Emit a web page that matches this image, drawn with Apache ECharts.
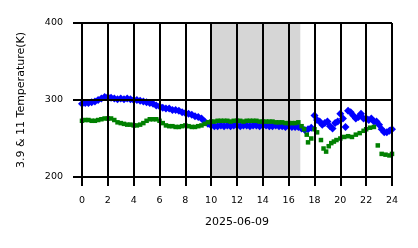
<!DOCTYPE html>
<html>
<head>
<meta charset="utf-8">
<script src="https://cdn.jsdelivr.net/npm/echarts@6/dist/echarts.min.js"></script>
<style>html,body{margin:0;padding:0;background:#fff}#c{width:418px;height:248px}</style>
</head>
<body>
<div id="c"></div>
<script>
// hours (dense part, every 15 min) then sparse part
const hoursDense = [0,0.25,0.5,0.75,1,1.25,1.5,1.75,2,2.25,2.5,2.75,3,3.25,3.5,3.75,4,4.25,4.5,4.75,5,5.25,5.5,5.75,6,6.25,6.5,6.75,7,7.25,7.5,7.75,8,8.25,8.5,8.75,9,9.25,9.5,9.75,10,10.25,10.5,10.75,11,11.25,11.5,11.75,12,12.25,12.5,12.75,13,13.25,13.5,13.75,14,14.25,14.5,14.75,15,15.25,15.5,15.75,16,16.25,16.5,16.75];
const blueDense = [295,296,296,297,298,300,302,304,304,303,302,301,302,301,302,301,300,300,299,298,297,296,295,293,292,290,289,289,287,287,286,284,283,282,281,279,278,276,272,269,267,266,266,267,266,267,266,267,267,266,267,267,266,267,267,266,267,267,266,266,267,266,266,265,266,265,265,265];
const greenDense = [273,274,274,273,273,274,275,276,276,276,274,271,270,269,268,268,267,267,268,270,273,275,275,275,273,270,267,266,266,265,265,266,267,266,265,265,266,267,269,271,272,272,273,273,273,273,272,273,273,273,272,273,273,273,273,272,272,272,272,272,271,271,271,270,270,270,270,271];
const blueSparseHours = [17,17.25,17.5,17.75,18,18.2,18.4,18.6,18.8,19,19.2,19.4,19.6,19.8,20,20.2,20.4,20.6,20.8,21,21.2,21.4,21.6,21.8,22,22.2,22.4,22.6,22.8,23,23.2,23.4,23.6,23.8,24];
const blueSparse = [263,261,262,264,280,274,272,268,270,272,266,263,270,272,282,276,265,286,284,280,276,278,282,276,276,274,276,272,272,268,262,258,258,260,262];
const greenSparseHours = [17,17.2,17.4,17.5,17.75,18,18.2,18.5,18.7,18.9,19.1,19.3,19.5,19.7,20,20.3,20.6,20.9,21.2,21.5,21.8,22,22.3,22.6,22.9,23.2,23.5,23.8,24];
const greenSparse = [266,262,255,245,250,262,258,248,237,233,240,244,246,248,250,252,253,252,255,257,260,262,264,265,241,230,229,228,230];
const xTicks = [0,2,4,6,8,10,12,14,16,18,20,22,24];
const yTicks = [200,300,400];
const shadeRange = [10, 16.9];
const xName = '2025-06-09';
const yName = '3.9 & 11 Temperature(K)';

function pairs(xs, ys){ return xs.map((x,i)=>[x, ys[i]]); }
const blueData = pairs(hoursDense, blueDense).concat(pairs(blueSparseHours, blueSparse));
const greenData = pairs(hoursDense, greenDense).concat(pairs(greenSparseHours, greenSparse));

const font = 'DejaVu Sans';
const chart = echarts.init(document.getElementById('c'), null, {renderer:'canvas'});
chart.setOption({
  animation: false,
  grid: {left: 82, right: 26, top: 23, bottom: 71, containLabel: false},
  xAxis: {
    type: 'value', min: 0, max: 24, interval: 2, z: 5,
    name: xName, nameLocation: 'middle', nameGap: 40,
    nameTextStyle: {fontFamily: font, fontSize: 11, color: '#000'},
    axisLine: {show: true, lineStyle: {color: '#000', width: 2}},
    axisTick: {show: true, length: 9, lineStyle: {color: '#000', width: 2}},
    axisLabel: {fontFamily: font, fontSize: 9.5, color: '#000', margin: 19,
      formatter: v => xTicks.includes(v) ? String(v) : ''},
    splitLine: {show: true, lineStyle: {color: '#000', width: 2}}
  },
  yAxis: {
    type: 'value', min: 200, max: 400, interval: 100, z: 5,
    name: yName, nameLocation: 'middle', nameGap: 55, nameRotate: 90,
    nameTextStyle: {fontFamily: font, fontSize: 11, color: '#000'},
    axisLine: {show: true, lineStyle: {color: '#000', width: 2}},
    axisTick: {show: true, length: 9, lineStyle: {color: '#000', width: 2}},
    axisLabel: {fontFamily: font, fontSize: 9.5, color: '#000', margin: 19,
      formatter: v => yTicks.includes(v) ? String(v) : ''},
    splitLine: {show: true, lineStyle: {color: '#000', width: 2}}
  },
  series: [
    {type: 'scatter', data: [], silent: true, z: 1,
     markArea: {silent: true, itemStyle: {color: 'rgba(200,200,200,0.75)'},
       data: [[{xAxis: shadeRange[0]}, {xAxis: shadeRange[1]}]]}},
    {type: 'scatter', data: blueData, symbol: 'diamond', symbolSize: 8,
     itemStyle: {color: '#0000ff', opacity: 1}, z: 2},
    {type: 'scatter', data: greenData, symbol: 'rect', symbolSize: 4.5,
     itemStyle: {color: '#008000', opacity: 1}, z: 3}
  ]
});
</script>
</body>
</html>
